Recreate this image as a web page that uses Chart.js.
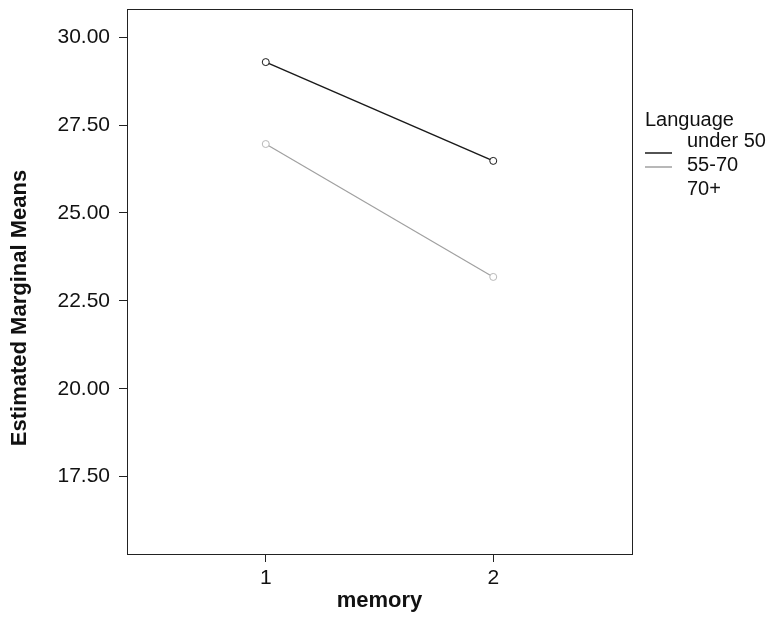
<!DOCTYPE html>
<html>
<head>
<meta charset="utf-8">
<title>Estimated Marginal Means of memory</title>
<script src="https://cdn.jsdelivr.net/npm/chart.js@4.4.1/dist/chart.umd.min.js"></script>
<style>
    html, body { margin: 0; padding: 0; background: #fff; }
    #chartBox { width: 769px; height: 618px; }
</style>
</head>
<body>
<div id="chartBox"><canvas id="meansChart" width="769" height="618"></canvas></div>
<script>
// Data
const memoryLevels = [1, 2];
const memoryLabels = ['1', '2'];
const under50 = [29.29, 26.48];
const age55to70 = [26.96, 23.18];
const age70plus = [null, null]; // listed in legend, no visible line
const groupNames = ['under 50', '55-70', '70+'];
const yTicks = [17.5, 20, 22.5, 25, 27.5, 30];

document.addEventListener('DOMContentLoaded', () => {

    const fontFamily = '"Liberation Sans", Arial, Helvetica, sans-serif';
    const toPoints = (vals) => memoryLevels.map((x, i) => ({ x: x, y: vals[i] }));

    // Frame around the plot area (top + right sides too)
    const framePlugin = {
        id: 'frame',
        afterDraw(chart) {
            const { ctx, chartArea: a } = chart;
            ctx.save();
            ctx.strokeStyle = '#222';
            ctx.lineWidth = 1;
            ctx.strokeRect(a.left + 0.5, a.top + 0.5, a.right - a.left, a.bottom - a.top);
            ctx.restore();
        }
    };

    // Y title sits a bit lower than the axis centre, so draw it by hand
    const yTitlePlugin = {
        id: 'yTitle',
        afterDraw(chart) {
            const ctx = chart.ctx;
            ctx.save();
            ctx.translate(20, 308);
            ctx.rotate(-Math.PI / 2);
            ctx.font = 'bold 22px ' + fontFamily;
            ctx.fillStyle = '#111';
            ctx.textAlign = 'center';
            ctx.textBaseline = 'middle';
            ctx.fillText('Estimated Marginal Means', 0, 0);
            ctx.restore();
        }
    };

    // SPSS style legend to the right of the frame
    const legendPlugin = {
        id: 'spssLegend',
        afterDraw(chart) {
            const ctx = chart.ctx;
            const left = 645;
            ctx.save();
            ctx.font = '20px ' + fontFamily;
            ctx.fillStyle = '#111';
            ctx.textBaseline = 'middle';
            ctx.textAlign = 'left';
            ctx.fillText('Language', left, 120);
            chart.data.datasets.forEach((ds, i) => {
                ctx.fillStyle = '#111';
                ctx.fillText(ds.label, left + 42, 141 + i * 24);
                ctx.strokeStyle = ds.borderColor;
                ctx.lineWidth = 1.5;
                ctx.beginPath();
                ctx.moveTo(left, 153 + i * 14);
                ctx.lineTo(left + 27, 153 + i * 14);
                ctx.stroke();
            });
            ctx.restore();
        }
    };

    const ctx = document.getElementById('meansChart');
    new Chart(ctx.getContext('2d'), {
        type: 'line',
        data: {
            datasets: [
                {
                    label: groupNames[0],
                    data: toPoints(under50),
                    borderColor: '#1a1a1a',
                    borderWidth: 1.5,
                    pointRadius: 3.5,
                    pointBorderWidth: 1,
                    pointBackgroundColor: '#fff',
                    pointBorderColor: '#1a1a1a'
                },
                {
                    label: groupNames[1],
                    data: toPoints(age55to70),
                    borderColor: '#a0a0a0',
                    borderWidth: 1.2,
                    pointRadius: 3.5,
                    pointBorderWidth: 1,
                    pointBackgroundColor: '#fff',
                    pointBorderColor: '#b8b8b8'
                },
                {
                    label: groupNames[2],
                    data: toPoints(age70plus),
                    borderColor: '#ffffff',
                    borderWidth: 1,
                    pointRadius: 0
                }
            ]
        },
        options: {
            responsive: false,
            animation: false,
            devicePixelRatio: 1,
            layout: { padding: { top: 9, right: 137, left: 0, bottom: 0 } },
            plugins: {
                legend: { display: false },
                tooltip: { enabled: false }
            },
            scales: {
                x: {
                    type: 'linear',
                    min: 0.39,
                    max: 2.61,
                    afterBuildTicks: (scale) => {
                        scale.ticks = memoryLevels.map(v => ({ value: v }));
                    },
                    afterFit: (scale) => {
                        scale.height = 64;
                        scale.paddingLeft = 0;
                        scale.paddingRight = 0;
                    },
                    ticks: {
                        color: '#111',
                        font: { family: fontFamily, size: 21 },
                        padding: 4,
                        maxRotation: 0,
                        callback: (v) => memoryLabels[memoryLevels.indexOf(v)]
                    },
                    grid: { drawOnChartArea: false, tickLength: 8, color: '#222' },
                    border: { color: '#222', width: 1 },
                    title: {
                        display: true,
                        text: 'memory',
                        color: '#111',
                        font: { family: fontFamily, size: 22, weight: 'bold' },
                        padding: { top: 0, bottom: 4 }
                    }
                },
                y: {
                    min: 15.3,
                    max: 30.8,
                    afterBuildTicks: (scale) => {
                        scale.ticks = yTicks.map(v => ({ value: v }));
                    },
                    afterFit: (scale) => {
                        scale.width = 127;
                        scale.paddingTop = 0;
                        scale.paddingBottom = 0;
                    },
                    ticks: {
                        color: '#111',
                        font: { family: fontFamily, size: 21 },
                        padding: 9,
                        callback: (v) => Number(v).toFixed(2)
                    },
                    grid: { drawOnChartArea: false, tickLength: 8, color: '#222' },
                    border: { color: '#222', width: 1 }
                }
            }
        },
        plugins: [framePlugin, yTitlePlugin, legendPlugin]
    });
});
</script>
</body>
</html>
